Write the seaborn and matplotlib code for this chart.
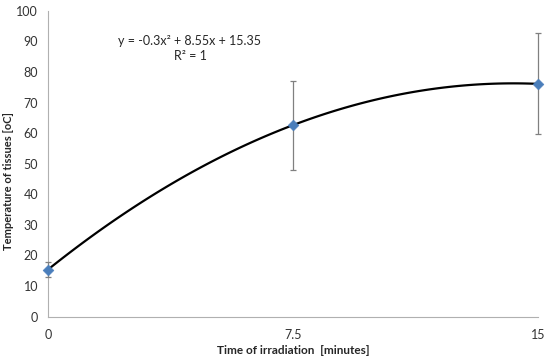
import matplotlib
matplotlib.use("Agg")
import matplotlib.pyplot as plt
import seaborn as sns
import pandas as pd

time_min = [0, 7.5, 15]
temperature = [15.35, 62.6, 76.1]
err = [2.5, 14.6, 16.5]
x_ticks = [0, 7.5, 15]
y_ticks = [0, 10, 20, 30, 40, 50, 60, 70, 80, 90, 100]

df = pd.DataFrame({"t": time_min, "T": temperature, "e": err})

sns.set_style("white")
plt.rcParams['font.family'] = ['Lato', 'DejaVu Sans']

fig, ax = plt.subplots(figsize=(5.5, 3.59), dpi=100)
fig.subplots_adjust(left=0.087, right=0.978, top=0.97, bottom=0.118)

sns.regplot(data=df, x="t", y="T", order=2, ci=None, scatter=False,
            truncate=True, line_kws=dict(color="black", lw=1.6), ax=ax)
ax.errorbar(df["t"], df["T"], yerr=df["e"], fmt="none", ecolor="#808080",
            elinewidth=0.9, capsize=2.5, capthick=0.9, clip_on=False, zorder=3)
sns.scatterplot(data=df, x="t", y="T", marker="D", s=30, color="#4a7ebb",
                edgecolor="#4a7ebb", ax=ax, zorder=4, clip_on=False)

ax.set_xlim(0, 15)
ax.set_ylim(0, 100)
ax.set_xticks(x_ticks)
ax.set_xticklabels(["0", "7.5", "15"])
ax.set_yticks(y_ticks)
ax.tick_params(axis="both", length=0, labelsize=9, colors="#333333", pad=7)
ax.tick_params(axis="x", pad=9)
for s in ["top", "right"]:
    ax.spines[s].set_visible(False)
for s in ["left", "bottom"]:
    ax.spines[s].set_color("#b0b0b0")
    ax.spines[s].set_linewidth(0.8)

ax.set_xlabel("Time of irradiation  [minutes]", fontsize=8.5, fontweight="bold", labelpad=3)
ax.set_ylabel("Temperature of tissues [oC]", fontsize=8, fontweight="bold")
ax.yaxis.set_label_coords(-0.07, 0.443)

ax.text(4.35, 87.8, "y = -0.3x² + 8.55x + 15.35\nR² = 1", ha="center",
        va="center", fontsize=9, linespacing=1.3)

fig.savefig("out.png", dpi=100)
